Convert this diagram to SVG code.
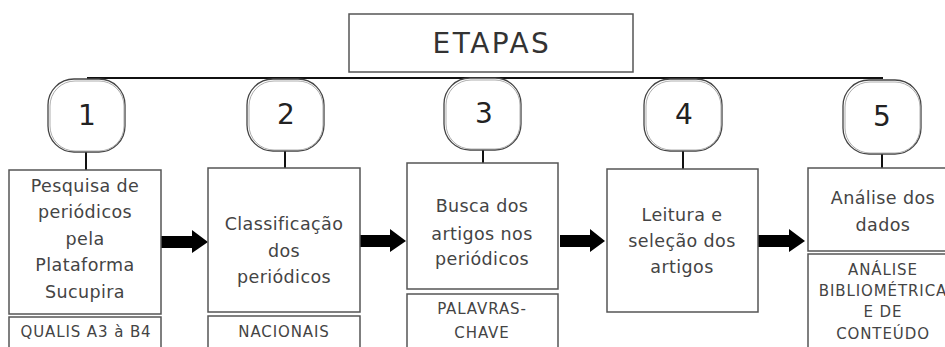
<svg xmlns="http://www.w3.org/2000/svg" width="945" height="347" viewBox="0 0 945 347">
<style>
.box{fill:#fff;stroke:#555;stroke-width:1.5}
.num{fill:#fff;stroke:#444;stroke-width:1.3}
.num2{fill:none;stroke:#999;stroke-width:0.8}
.t{font-family:"DejaVu Sans","Noto Sans",sans-serif;font-size:17.5px;letter-spacing:0.4px;fill:#444;text-anchor:middle}
.s{font-family:"DejaVu Sans","Noto Sans",sans-serif;font-size:15px;letter-spacing:0.9px;fill:#444;text-anchor:middle}
.n{font-family:"DejaVu Sans","Noto Sans",sans-serif;font-size:28px;fill:#222;text-anchor:middle}
.ln{stroke:#111;stroke-width:2;fill:none}
.arr{fill:#000}
</style>
<rect width="945" height="347" fill="#fff"/>
<g id="connectors">
<line class="ln" x1="87" y1="78" x2="883" y2="78"/>
<line class="ln" x1="86" y1="152" x2="86" y2="170"/>
<line class="ln" x1="285" y1="151" x2="285" y2="168"/>
<line class="ln" x1="483" y1="150" x2="483" y2="163"/>
<line class="ln" x1="683" y1="151" x2="683" y2="169"/>
<line class="ln" x1="882" y1="154" x2="882" y2="168"/>
<polygon class="arr" points="161,236 192,236 192,230 208,242 192,253 192,248 161,248"/>
<polygon class="arr" points="360,235 390,235 390,229 406,241 390,252 390,247 360,247"/>
<polygon class="arr" points="560,235 590,235 590,229 605,241 590,252 590,247 560,247"/>
<polygon class="arr" points="758,235 789,235 789,229 805,241 789,252 789,247 758,247"/>
</g>
<g id="etapas">
<rect class="box" x="349" y="14" width="284" height="58"/>
<text class="n" x="492" y="53" style="font-size:28px;letter-spacing:2.5px;fill:#333">ETAPAS</text>
</g>
<g id="n1">
<rect class="num" x="48" y="79" width="77" height="73" rx="26"/>
<rect class="num2" x="50" y="81" width="74" height="70" rx="25"/>
<text class="n" x="87" y="125">1</text>
</g>
<g id="n2">
<rect class="num" x="247" y="79" width="77" height="72" rx="26"/>
<rect class="num2" x="249" y="81" width="74" height="69" rx="25"/>
<text class="n" x="286" y="124">2</text>
</g>
<g id="n3">
<rect class="num" x="444" y="78" width="77" height="72" rx="26"/>
<rect class="num2" x="446" y="80" width="74" height="69" rx="25"/>
<text class="n" x="484" y="123">3</text>
</g>
<g id="n4">
<rect class="num" x="644" y="79" width="78" height="72" rx="26"/>
<rect class="num2" x="646" y="81" width="75" height="69" rx="25"/>
<text class="n" x="684" y="124">4</text>
</g>
<g id="n5">
<rect class="num" x="843" y="80" width="78" height="74" rx="26"/>
<rect class="num2" x="845" y="82" width="75" height="71" rx="25"/>
<text class="n" x="882" y="126">5</text>
</g>
<g id="b1">
<rect class="box" x="9" y="170" width="152" height="144"/>
<text class="t" x="85" y="192">Pesquisa de</text>
<text class="t" x="85" y="218">periódicos</text>
<text class="t" x="85" y="245">pela</text>
<text class="t" x="85" y="271">Plataforma</text>
<text class="t" x="85" y="298">Sucupira</text>
</g>
<g id="s1">
<rect class="box" x="9" y="317" width="152" height="40"/>
<text class="s" x="86" y="337">QUALIS A3 à B4</text>
</g>
<g id="b2">
<rect class="box" x="208" y="168" width="152" height="144"/>
<text class="t" x="284" y="230">Classificação</text>
<text class="t" x="284" y="257">dos</text>
<text class="t" x="284" y="283">periódicos</text>
</g>
<g id="s2">
<rect class="box" x="208" y="316" width="152" height="40"/>
<text class="s" x="284" y="337">NACIONAIS</text>
</g>
<g id="b3">
<rect class="box" x="407" y="163" width="151" height="126"/>
<text class="t" x="482" y="212">Busca dos</text>
<text class="t" x="482" y="240">artigos nos</text>
<text class="t" x="482" y="265">periódicos</text>
</g>
<g id="s3">
<rect class="box" x="407" y="294" width="151" height="60"/>
<text class="s" x="482" y="314">PALAVRAS-</text>
<text class="s" x="482" y="338">CHAVE</text>
</g>
<g id="b4">
<rect class="box" x="607" y="169" width="151" height="143"/>
<text class="t" x="682" y="221">Leitura e</text>
<text class="t" x="682" y="247">seleção dos</text>
<text class="t" x="682" y="273">artigos</text>
</g>
<g id="b5">
<rect class="box" x="808" y="168" width="150" height="83"/>
<text class="t" x="883" y="204">Análise dos</text>
<text class="t" x="883" y="231">dados</text>
</g>
<g id="s5">
<rect class="box" x="808" y="254" width="150" height="100"/>
<text class="s" x="883" y="275">ANÁLISE</text>
<text class="s" x="883" y="296">BIBLIOMÉTRICA</text>
<text class="s" x="883" y="317">E DE</text>
<text class="s" x="883" y="339">CONTEÚDO</text>
</g>
</svg>
